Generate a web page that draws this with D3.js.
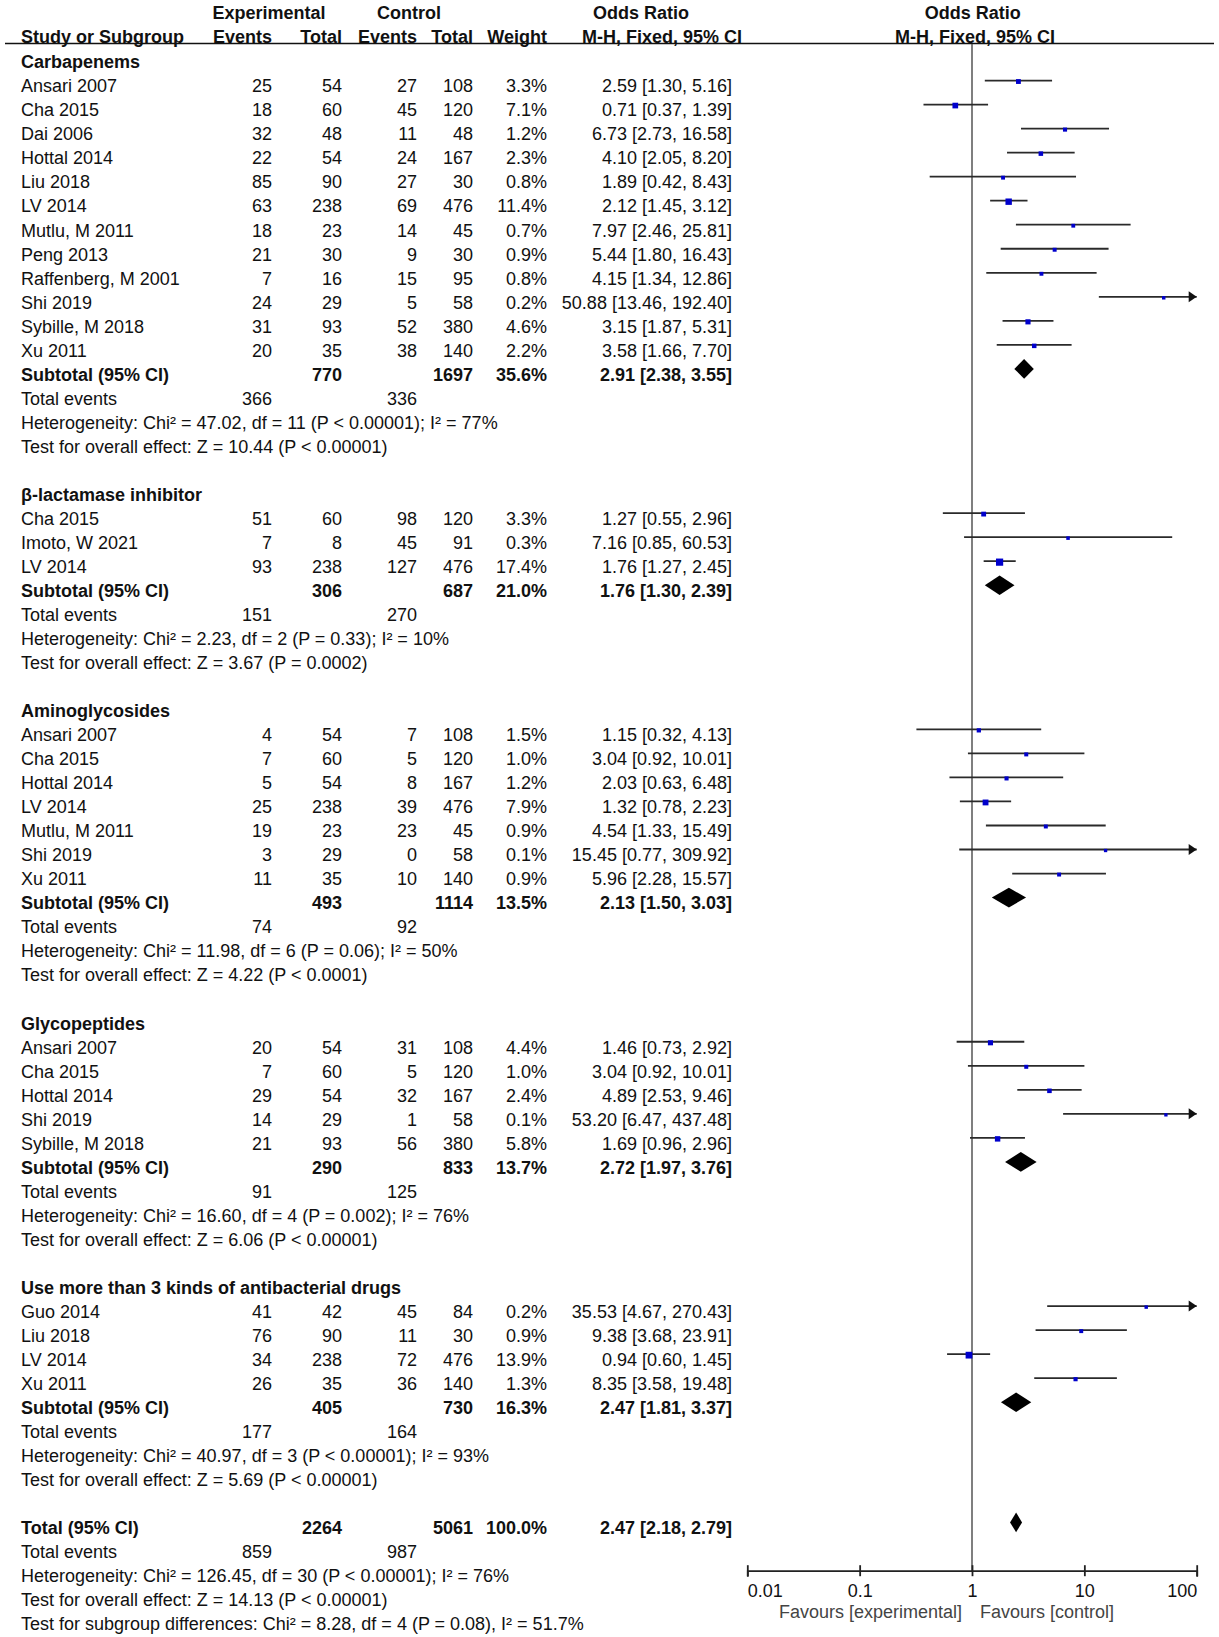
<!DOCTYPE html>
<html>
<head>
<meta charset="utf-8">
<script src="https://cdn.jsdelivr.net/npm/d3@7"></script>
<style>
  html, body { margin: 0; padding: 0; background: #fff; }
  svg { display: block; }
  text { font-family: "Liberation Sans", Arial, sans-serif; font-size: 18px; fill: #111; }
</style>
</head>
<body>
<div id="chart"></div>
<script>
// ---------------- DATA ----------------
const groupNames = ["Carbapenems", "β-lactamase inhibitor", "Aminoglycosides", "Glycopeptides", "Use more than 3 kinds of antibacterial drugs"];

const studyGroup = [0,0,0,0,0,0,0,0,0,0,0,0, 1,1,1, 2,2,2,2,2,2,2, 3,3,3,3,3, 4,4,4,4];
const studyNames = [
  "Ansari 2007","Cha 2015","Dai 2006","Hottal 2014","Liu 2018","LV 2014","Mutlu, M 2011","Peng 2013","Raffenberg, M 2001","Shi 2019","Sybille, M 2018","Xu 2011",
  "Cha 2015","Imoto, W 2021","LV 2014",
  "Ansari 2007","Cha 2015","Hottal 2014","LV 2014","Mutlu, M 2011","Shi 2019","Xu 2011",
  "Ansari 2007","Cha 2015","Hottal 2014","Shi 2019","Sybille, M 2018",
  "Guo 2014","Liu 2018","LV 2014","Xu 2011"
];
const expEvents = [25,18,32,22,85,63,18,21,7,24,31,20, 51,7,93, 4,7,5,25,19,3,11, 20,7,29,14,21, 41,76,34,26];
const expTotal  = [54,60,48,54,90,238,23,30,16,29,93,35, 60,8,238, 54,60,54,238,23,29,35, 54,60,54,29,93, 42,90,238,35];
const ctlEvents = [27,45,11,24,27,69,14,9,15,5,52,38, 98,45,127, 7,5,8,39,23,0,10, 31,5,32,1,56, 45,11,72,36];
const ctlTotal  = [108,120,48,167,30,476,45,30,95,58,380,140, 120,91,476, 108,120,167,476,45,58,140, 108,120,167,58,380, 84,30,476,140];
const studyWeight = [3.3,7.1,1.2,2.3,0.8,11.4,0.7,0.9,0.8,0.2,4.6,2.2, 3.3,0.3,17.4, 1.5,1.0,1.2,7.9,0.9,0.1,0.9, 4.4,1.0,2.4,0.1,5.8, 0.2,0.9,13.9,1.3];
const studyOR   = [2.59,0.71,6.73,4.10,1.89,2.12,7.97,5.44,4.15,50.88,3.15,3.58, 1.27,7.16,1.76, 1.15,3.04,2.03,1.32,4.54,15.45,5.96, 1.46,3.04,4.89,53.20,1.69, 35.53,9.38,0.94,8.35];
const studyLow  = [1.30,0.37,2.73,2.05,0.42,1.45,2.46,1.80,1.34,13.46,1.87,1.66, 0.55,0.85,1.27, 0.32,0.92,0.63,0.78,1.33,0.77,2.28, 0.73,0.92,2.53,6.47,0.96, 4.67,3.68,0.60,3.58];
const studyHigh = [5.16,1.39,16.58,8.20,8.43,3.12,25.81,16.43,12.86,192.40,5.31,7.70, 2.96,60.53,2.45, 4.13,10.01,6.48,2.23,15.49,309.92,15.57, 2.92,10.01,9.46,437.48,2.96, 270.43,23.91,1.45,19.48];

const subExpTotal   = [770, 306, 493, 290, 405];
const subCtlTotal   = [1697, 687, 1114, 833, 730];
const subWeight     = [35.6, 21.0, 13.5, 13.7, 16.3];
const subOR         = [2.91, 1.76, 2.13, 2.72, 2.47];
const subLow        = [2.38, 1.30, 1.50, 1.97, 1.81];
const subHigh       = [3.55, 2.39, 3.03, 3.76, 3.37];
const subExpEvents  = [366, 151, 74, 91, 177];
const subCtlEvents  = [336, 270, 92, 125, 164];
const subHet = [
  "Heterogeneity: Chi² = 47.02, df = 11 (P < 0.00001); I² = 77%",
  "Heterogeneity: Chi² = 2.23, df = 2 (P = 0.33); I² = 10%",
  "Heterogeneity: Chi² = 11.98, df = 6 (P = 0.06); I² = 50%",
  "Heterogeneity: Chi² = 16.60, df = 4 (P = 0.002); I² = 76%",
  "Heterogeneity: Chi² = 40.97, df = 3 (P < 0.00001); I² = 93%"
];
const subTest = [
  "Test for overall effect: Z = 10.44 (P < 0.00001)",
  "Test for overall effect: Z = 3.67 (P = 0.0002)",
  "Test for overall effect: Z = 4.22 (P < 0.0001)",
  "Test for overall effect: Z = 6.06 (P < 0.00001)",
  "Test for overall effect: Z = 5.69 (P < 0.00001)"
];

const totalExpTotal = 2264, totalCtlTotal = 5061, totalWeight = 100.0;
const totalOR = 2.47, totalLow = 2.18, totalHigh = 2.79;
const totalExpEvents = 859, totalCtlEvents = 987;
const totalHet = "Heterogeneity: Chi² = 126.45, df = 30 (P < 0.00001); I² = 76%";
const totalTest = "Test for overall effect: Z = 14.13 (P < 0.00001)";
const subgroupDiff = "Test for subgroup differences: Chi² = 8.28, df = 4 (P = 0.08), I² = 51.7%";

const tickValues = [0.01, 0.1, 1, 10, 100];
const tickLabels = ["0.01", "0.1", "1", "10", "100"];
const favoursLeft = "Favours [experimental]";
const favoursRight = "Favours [control]";

// ---------------- LAYOUT ----------------
const W = 1219, H = 1637;
const svg = d3.select("#chart").append("svg").attr("width", W).attr("height", H);

const x = d3.scaleLog().domain([0.01, 100]).range([747.3, 1196.7]);
const nRows = 66;
const yRow = d3.scaleLinear().domain([0, nRows - 1]).range([62, 1624]);
const plotOff = -5.5;
const sq = d3.scaleSqrt().domain([0, d3.max(studyWeight)]).range([3, 7.2]);

const col = { study: 21, ee: 272, et: 342, ce: 417, ct: 473, w: 547, or: 732 };
const fOR = d3.format(".2f"), fW = d3.format(".1f");
const orText = (o, l, h) => `${fOR(o)} [${fOR(l)}, ${fOR(h)}]`;

const gText = svg.append("g");
function txt(xp, yp, s, opt = {}) {
  return gText.append("text")
    .attr("x", xp).attr("y", yp).attr("dy", "0.35em")
    .attr("text-anchor", opt.anchor || "start")
    .attr("font-weight", opt.bold ? "bold" : "normal")
    .style("fill", opt.fill || "#111")
    .text(s);
}

// headers
txt(269, 13, "Experimental", { anchor: "middle", bold: true });
txt(409, 13, "Control", { anchor: "middle", bold: true });
txt(641, 13, "Odds Ratio", { anchor: "middle", bold: true });
txt(972.7, 13, "Odds Ratio", { anchor: "middle", bold: true });
txt(col.study, 37, "Study or Subgroup", { bold: true });
txt(col.ee, 37, "Events", { anchor: "end", bold: true });
txt(col.et, 37, "Total", { anchor: "end", bold: true });
txt(col.ce, 37, "Events", { anchor: "end", bold: true });
txt(col.ct, 37, "Total", { anchor: "end", bold: true });
txt(col.w, 37, "Weight", { anchor: "end", bold: true });
txt(662, 37, "M-H, Fixed, 95% CI", { anchor: "middle", bold: true });
txt(975, 37, "M-H, Fixed, 95% CI", { anchor: "middle", bold: true });

svg.append("line").attr("x1", 5).attr("x2", 1214).attr("y1", 43.5).attr("y2", 43.5)
  .attr("stroke", "#111").attr("stroke-width", 1.6);

// vertical line of no effect
svg.append("line").attr("x1", x(1)).attr("x2", x(1)).attr("y1", 44).attr("y2", 1571)
  .attr("stroke", "#555").attr("stroke-width", 1.5);

const gPlot = svg.append("g");

function studyMark(i, yc) {
  const lo = Math.max(studyLow[i], 0.01), hi = Math.min(studyHigh[i], 100);
  const yl = yc + plotOff;
  gPlot.append("line").attr("x1", x(lo)).attr("x2", x(hi)).attr("y1", yl).attr("y2", yl)
    .attr("stroke", "#2a2a2a").attr("stroke-width", 1.8);
  if (studyHigh[i] > 100) {
    const xe = x(100);
    gPlot.append("path")
      .attr("d", `M${xe},${yl} L${xe - 8},${yl - 5.5} L${xe - 8},${yl + 5.5} Z`)
      .attr("fill", "#111");
  }
  const s = sq(studyWeight[i]);
  const xc = x(studyOR[i]);
  gPlot.append("rect").attr("x", xc - s / 2).attr("y", yl + 1 - s / 2)
    .attr("width", s).attr("height", s).attr("fill", "#0000cc");
}
function diamond(o, l, h, yc) {
  const yl = yc + plotOff, hh = 9.8;
  gPlot.append("path")
    .attr("d", `M${x(l)},${yl} L${x(o)},${yl - hh} L${x(h)},${yl} L${x(o)},${yl + hh} Z`)
    .attr("fill", "#000");
}

let r = 0;
groupNames.forEach((gname, gi) => {
  txt(col.study, yRow(r), gname, { bold: true });
  r++;
  studyGroup.forEach((g, i) => {
    if (g !== gi) return;
    const y = yRow(r);
    txt(col.study, y, studyNames[i]);
    txt(col.ee, y, expEvents[i], { anchor: "end" });
    txt(col.et, y, expTotal[i], { anchor: "end" });
    txt(col.ce, y, ctlEvents[i], { anchor: "end" });
    txt(col.ct, y, ctlTotal[i], { anchor: "end" });
    txt(col.w, y, fW(studyWeight[i]) + "%", { anchor: "end" });
    txt(col.or, y, orText(studyOR[i], studyLow[i], studyHigh[i]), { anchor: "end" });
    studyMark(i, y);
    r++;
  });
  let y = yRow(r);
  txt(col.study, y, "Subtotal (95% CI)", { bold: true });
  txt(col.et, y, subExpTotal[gi], { anchor: "end", bold: true });
  txt(col.ct, y, subCtlTotal[gi], { anchor: "end", bold: true });
  txt(col.w, y, fW(subWeight[gi]) + "%", { anchor: "end", bold: true });
  txt(col.or, y, orText(subOR[gi], subLow[gi], subHigh[gi]), { anchor: "end", bold: true });
  diamond(subOR[gi], subLow[gi], subHigh[gi], y);
  r++;
  y = yRow(r);
  txt(col.study, y, "Total events");
  txt(col.ee, y, subExpEvents[gi], { anchor: "end" });
  txt(col.ce, y, subCtlEvents[gi], { anchor: "end" });
  r++;
  txt(col.study, yRow(r), subHet[gi]); r++;
  txt(col.study, yRow(r), subTest[gi]); r++;
  r++; // blank
});

let y = yRow(r);
txt(col.study, y, "Total (95% CI)", { bold: true });
txt(col.et, y, totalExpTotal, { anchor: "end", bold: true });
txt(col.ct, y, totalCtlTotal, { anchor: "end", bold: true });
txt(col.w, y, fW(totalWeight) + "%", { anchor: "end", bold: true });
txt(col.or, y, orText(totalOR, totalLow, totalHigh), { anchor: "end", bold: true });
diamond(totalOR, totalLow, totalHigh, y);
r++;
y = yRow(r);
txt(col.study, y, "Total events");
txt(col.ee, y, totalExpEvents, { anchor: "end" });
txt(col.ce, y, totalCtlEvents, { anchor: "end" });
r++;
txt(col.study, yRow(r), totalHet); r++;
txt(col.study, yRow(r), totalTest); r++;
txt(col.study, yRow(r), subgroupDiff); r++;

// axis
const axisY = 1570.7;
const axis = d3.axisBottom(x).tickValues(tickValues).tickFormat((d, i) => tickLabels[i])
  .tickSizeOuter(0).tickSize(6).tickPadding(8);
const gAxis = svg.append("g").attr("transform", `translate(0,${axisY})`).call(axis);
gAxis.select(".domain").attr("stroke", "#222").attr("stroke-width", 1.8);
gAxis.selectAll(".tick line").attr("y1", -5.5).attr("y2", 5.5).attr("stroke", "#222").attr("stroke-width", 1.8);
gAxis.selectAll(".tick text").style("font-size", "18px").style("fill", "#111")
  .style("font-family", '"Liberation Sans", Arial, sans-serif')
  .attr("text-anchor", (d, i) => i === 0 ? "start" : (i === tickValues.length - 1 ? "end" : "middle"));

txt(x(1) - 10, 1612, favoursLeft, { anchor: "end", fill: "#444" });
txt(x(1) + 8, 1612, favoursRight, { anchor: "start", fill: "#444" });
</script>
</body>
</html>
